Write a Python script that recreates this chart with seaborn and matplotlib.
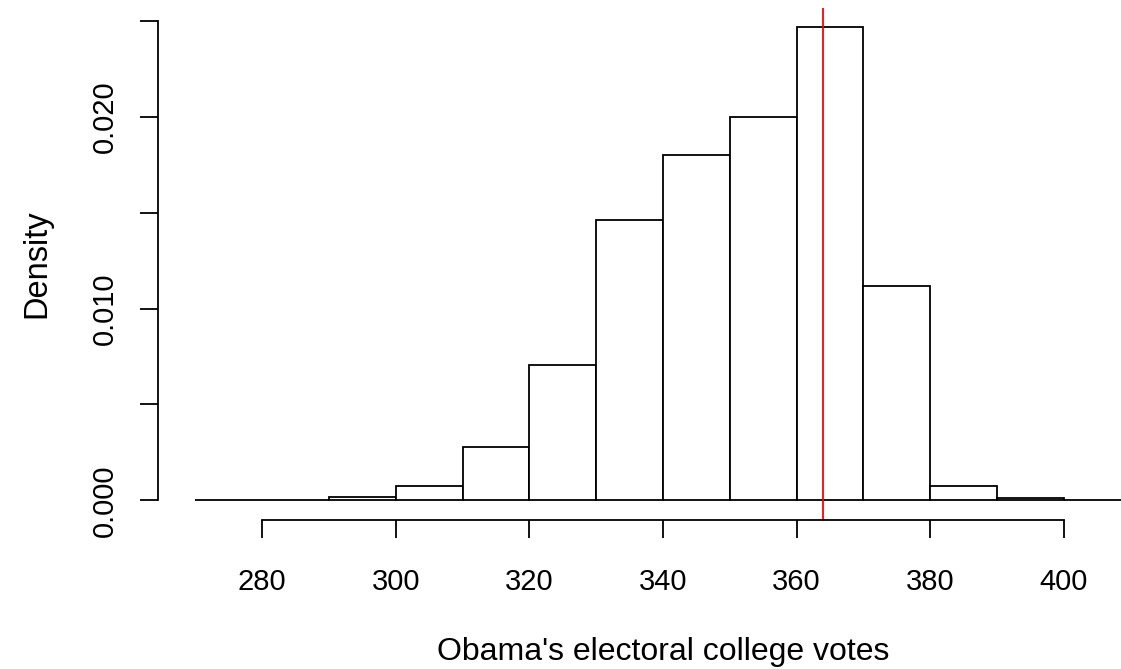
import numpy as np
import pandas as pd
import seaborn as sns
import matplotlib
matplotlib.use("Agg")
import matplotlib.pyplot as plt

# histogram bins (electoral votes) and the density of each bin
bin_edges = [270, 280, 290, 300, 310, 320, 330, 340, 350, 360, 370, 380, 390, 400, 410]
densities = [0.0, 0.00004, 0.00017, 0.00072, 0.0028, 0.00705, 0.01465,
             0.018, 0.020, 0.0247, 0.0112, 0.00072, 0.0001, 0.00003]
actual_votes = 364
x_ticks = [280, 300, 320, 340, 360, 380, 400]
y_ticks = [0.000, 0.005, 0.010, 0.015, 0.020, 0.025]
y_labels = ["0.000", "", "0.010", "", "0.020", ""]

sns.set_style("white", rc={"text.color": "black", "axes.labelcolor": "black",
                           "xtick.color": "black", "ytick.color": "black"})
plt.rcParams["font.family"] = ["Liberation Sans", "DejaVu Sans"]

centers = [(a + b) / 2 for a, b in zip(bin_edges[:-1], bin_edges[1:])]
df = pd.DataFrame({"votes": centers, "density": densities})

W, H = 1121, 669
fig = plt.figure(figsize=(W / 100, H / 100), dpi=100)
# plot region runs past the right edge of the image, like the original
ax = fig.add_axes([158 / W, (H - 520) / H, (1168 - 158) / W, (520 - 8) / H])

sns.histplot(data=df, x="votes", weights="density", bins=bin_edges, stat="count",
             color="white", edgecolor="black", linewidth=1.3, alpha=1, ax=ax)
ax.axvline(actual_votes, color="#FF0000", linewidth=1.3)

ax.set_xlim(264.4, 415.6)
ax.set_ylim(-0.00103, 0.0257)

# R style detached axes
for s in ["top", "right"]:
    ax.spines[s].set_visible(False)
ax.spines["left"].set_bounds(0, 0.025)
ax.spines["bottom"].set_bounds(280, 400)
for s in ["left", "bottom"]:
    ax.spines[s].set_linewidth(1.3)
    ax.spines[s].set_color("black")

ax.set_xticks(x_ticks)
ax.set_xticklabels([str(t) for t in x_ticks])
ax.set_yticks(y_ticks)
ax.set_yticklabels(y_labels, rotation=90, va="center")
ax.tick_params(axis="both", direction="out", length=13, width=1.3, labelsize=21,
               left=True, bottom=True)
ax.tick_params(axis="x", pad=21.5)
ax.tick_params(axis="y", pad=15)

ax.set_xlabel("Obama's electoral college votes", fontsize=23)
ax.set_ylabel("Density", fontsize=23.5)
ax.xaxis.set_label_coords(0.5, (520 - 637) / 512)
ax.yaxis.set_label_coords((52 - 158) / 1010, 0.5)

fig.savefig("out.png", dpi=100)
